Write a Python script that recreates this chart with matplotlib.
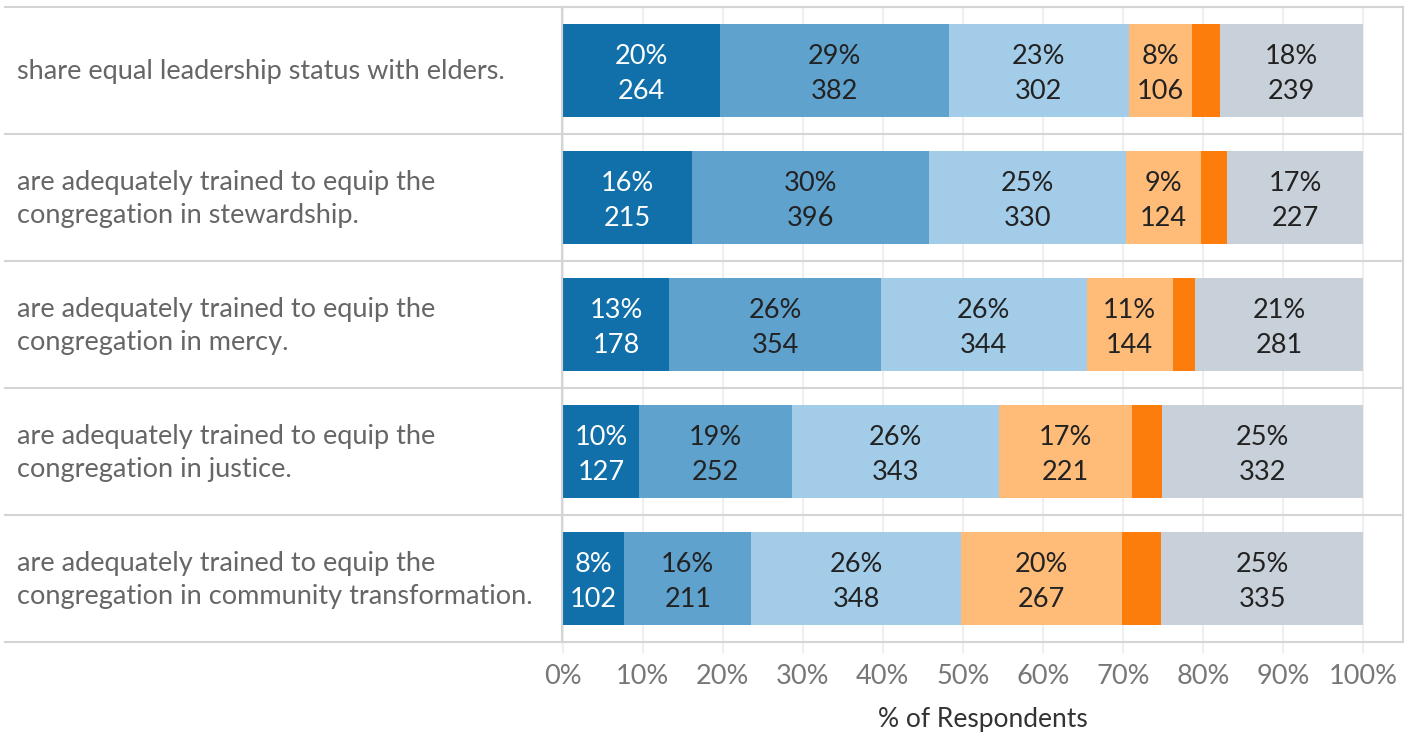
import numpy as np
import matplotlib.pyplot as plt
from matplotlib.lines import Line2D

# row labels, top to bottom
statements = [
    "share equal leadership status with elders.",
    "are adequately trained to equip the\ncongregation in stewardship.",
    "are adequately trained to equip the\ncongregation in mercy.",
    "are adequately trained to equip the\ncongregation in justice.",
    "are adequately trained to equip the\ncongregation in community transformation.",
]

# respondent counts per answer (strongly agree ... strongly disagree, n/a)
strongly_agree = [264, 215, 178, 127, 102]
agree = [382, 396, 354, 252, 211]
somewhat_agree = [302, 330, 344, 343, 348]
somewhat_disagree = [106, 124, 144, 221, 267]
disagree = [47, 44, 37, 50, 65]
not_sure = [239, 227, 281, 332, 335]

tick_values = [0, 10, 20, 30, 40, 50, 60, 70, 80, 90, 100]

series = [strongly_agree, agree, somewhat_agree, somewhat_disagree, disagree, not_sure]
colors = ["#1170aa", "#5fa2ce", "#a3cce9", "#ffbc79", "#fc7d0b", "#c8d0d9"]
text_colors = ["white", "#222222", "#222222", "#222222", None, "#222222"]

counts = np.array(series, dtype=float)
pct = counts / counts.sum(axis=0) * 100

W, H = 1419, 733
fig = plt.figure(figsize=(W / 100, H / 100), dpi=100)
font = "Lato"
fs = 19.5
ax = fig.add_axes([562 / W, 1 - 642 / H, (1403 - 562) / W, (642 - 7) / H])

rows = np.arange(len(statements))
left = np.zeros(len(statements))
for vals, p, c, tc in zip(counts, pct, colors, text_colors):
    ax.barh(rows, p, left=left, height=0.74, color=c, zorder=2)
    if tc is not None:
        for i in rows:
            cx = left[i] + p[i] / 2
            ax.text(cx, i - 0.113, f"{p[i]:.0f}%", ha="center", va="center",
                    color=tc, fontsize=fs, family=font, zorder=3)
            ax.text(cx, i + 0.163, f"{int(vals[i])}", ha="center", va="center",
                    color=tc, fontsize=fs, family=font, zorder=3)
    left += p

ax.set_xlim(-0.1, 105)
ax.set_ylim(len(statements) - 0.5, -0.5)
ax.set_yticks([])
ax.set_xticks(tick_values)
ax.set_xticklabels([f"{v}%" for v in tick_values], fontsize=fs, family=font, color="#777777")
ax.tick_params(axis="x", length=8, width=1.5, color="#efefef", pad=8)
ax.grid(axis="x", color="#efefef", linewidth=1.5, zorder=0)
for side in ["top", "right", "left"]:
    ax.spines[side].set_color("#d4d4d4")
    ax.spines[side].set_linewidth(1.5)
ax.spines["bottom"].set_visible(False)
ax.set_xlabel("% of Respondents", fontsize=19, family=font, color="#333333", labelpad=13)

# row separators across the label column and the plot
for i in range(len(statements) + 1):
    y = 1 - (7 + 127 * i) / H
    fig.add_artist(Line2D([5 / W, 1403 / W], [y, y], color="#d4d4d4", linewidth=1.5))

for i, s in enumerate(statements):
    y = 1 - (7 + 127 * i + 65) / H
    fig.text(17 / W, y, s, ha="left", va="center", fontsize=fs, family=font,
             color="#666666", linespacing=1.36)

fig.savefig("out.png", dpi=100)
